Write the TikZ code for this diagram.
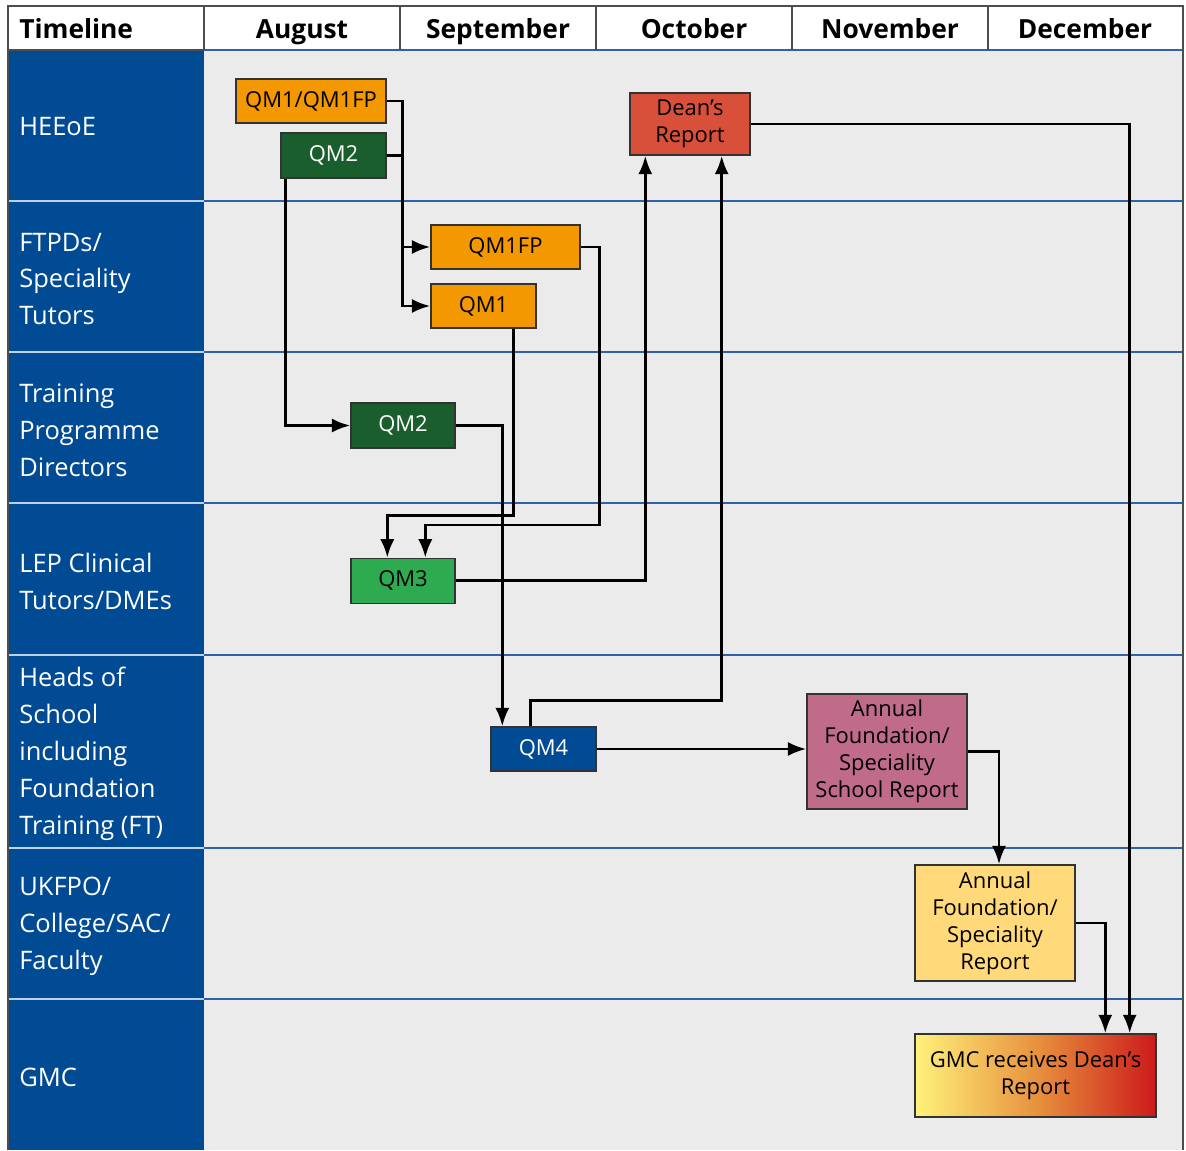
\documentclass[tikz,border=0pt]{standalone}
\usepackage{fontspec}
\setmainfont{Open Sans}
\usetikzlibrary{arrows.meta,positioning}

\definecolor{nhsblue}{HTML}{004B93}
\definecolor{panelgray}{HTML}{EBEBEB}
\definecolor{qmorange}{HTML}{F39800}
\definecolor{qmdkgreen}{HTML}{1B5E2E}
\definecolor{qmgreen}{HTML}{2EAA50}
\definecolor{deanred}{HTML}{D9503A}
\definecolor{schoolpink}{HTML}{C06B8A}
\definecolor{reportyellow}{HTML}{FFD97A}
\definecolor{gmcyellow}{HTML}{FFF27A}
\definecolor{gmcorange}{HTML}{E8923E}
\definecolor{gmcred}{HTML}{CC1A1A}
\definecolor{rowline}{HTML}{2F62A8}
\definecolor{framegray}{HTML}{4D4D4D}

\begin{document}
\begin{tikzpicture}[x=0.02cm, y=-0.02cm]
      \tikzstyle{qbox}=[rectangle, draw=black!80, line width=0.8pt, inner sep=0pt, align=center, font=\fontsize{12.5}{15.3}\selectfont]
      \tikzstyle{rowlabel}=[anchor=west, align=left, text=white, inner sep=0pt, font=\fontsize{14.5}{21}\selectfont]
      \tikzstyle{month}=[inner sep=0pt, anchor=base, font=\bfseries\fontsize{15}{18}\selectfont]
      \tikzstyle{connect}=[-{Latex[length=10.5pt, width=8pt]}, line width=1.6pt]
      \tikzstyle{link}=[line width=1.6pt]
      \tikzstyle{frame}=[framegray, line width=0.8pt]

      \useasboundingbox (0,0) rectangle (1186,1150);

      % table
      \fill[white] (8,6) rectangle (1183,50);
      \fill[panelgray] (204,50) rectangle (1183,1150);
      \fill[nhsblue] (8,50) rectangle (204,1150);
      \foreach \y in {201,352,503,655,848,999} {
        \draw[rowline, line width=0.8pt] (204,\y) -- (1183,\y);
        \draw[white!75!nhsblue, line width=1pt] (8,\y) -- (204,\y);
      }
      \draw[rowline, line width=0.8pt] (204,50) -- (1183,50);
      \draw[frame] (8,50) -- (204,50);
      \foreach \x in {204,400,596,792,988} \draw[frame] (\x,6) -- (\x,50);
      \draw[frame] (8,1150) -- (8,6) -- (1183,6) -- (1183,1150);

      % months
      \node[month, anchor=base west] (hdtime) at (19,38) {Timeline};
      \node[month] (hdaug) at (302,38) {August};
      \node[month] (hdsep) at (498,38) {September};
      \node[month] (hdoct) at (694,38) {October};
      \node[month] (hdnov) at (890,38) {November};
      \node[month] (hddec) at (1085,38) {December};

      % rows
      \node[rowlabel] (rheeoe) at (19,127) {HEEoE};
      \node[rowlabel] (rftpd) at (19,279) {FTPDs/\\Speciality\\Tutors};
      \node[rowlabel] (rtpd) at (19,430) {Training\\Programme\\Directors};
      \node[rowlabel] (rlep) at (19,581) {LEP Clinical\\Tutors/DMEs};
      \node[rowlabel] (rhos) at (19,754) {Heads of\\School\\including\\Foundation\\Training (FT)};
      \node[rowlabel] (rukfpo) at (19,926) {UKFPO/\\College/SAC/\\Faculty};
      \node[rowlabel] (rgmc) at (19,1077) {GMC};

      % boxes
      \node[qbox, fill=qmorange, minimum width=3cm, minimum height=0.88cm] (qmA) at (311,101) {QM1/QM1FP};
      \node[qbox, fill=qmdkgreen, text=white, minimum width=2.1cm, minimum height=0.9cm] (qmB) at (333.5,155.5) {QM2};
      \node[qbox, fill=deanred, minimum width=2.4cm, minimum height=1.24cm] (deans) at (690,124) {Dean's\\Report};
      \node[qbox, fill=qmorange, minimum width=2.98cm, minimum height=0.88cm] (qm1fp) at (505.5,247) {QM1FP};
      \node[qbox, fill=qmorange, minimum width=2.1cm, minimum height=0.88cm] (qm1) at (483.5,306) {QM1};
      \node[qbox, fill=qmdkgreen, text=white, minimum width=2.08cm, minimum height=0.9cm] (qm2) at (403,425.5) {QM2};
      \node[qbox, fill=qmgreen, minimum width=2.08cm, minimum height=0.9cm] (qm3) [below=2.18cm of qm2] {QM3};
      \node[qbox, fill=nhsblue, text=white, minimum width=2.1cm, minimum height=0.88cm] (qm4) at (543.5,749) {QM4};
      \node[qbox, fill=schoolpink, minimum width=3.2cm, minimum height=2.3cm] (school) at (887,751.5) {Annual\\Foundation/\\Speciality\\School Report};
      \node[qbox, fill=reportyellow, minimum width=3.2cm, minimum height=2.32cm] (annual) at (995,923) {Annual\\Foundation/\\Speciality\\Report};
      \node[qbox, left color=gmcyellow, right color=gmcred, middle color=gmcorange, minimum width=4.82cm, minimum height=1.66cm] (gmc) at (1035.5,1075.5) {GMC receives Dean's\\Report};

      % connectors
      \draw[connect] (qmA.east) -- ++(16,0) coordinate (split) |- (qm1.west);
      \draw[connect] (split |- qm1fp.west) -- (qm1fp.west);
      \draw[link] (qmB.east) -- (split |- qmB.east);
      \draw[connect] ([xshift=0.1cm]qmB.south west) |- (qm2.west);
      \draw[connect] (qm2.east) -| ([xshift=0.24cm]qm4.north west);
      \draw[connect] ([xshift=-0.46cm]qm1.south east) -- ++(0,187) -| ([xshift=0.74cm]qm3.north west);
      \draw[connect] (qm1fp.east) -- ++(19,0) -- ++(0,278) -| ([xshift=1.5cm]qm3.north west);
      \draw[connect] (qm3.east) -| ([xshift=0.32cm]deans.south west);
      \draw[connect] ([xshift=0.8cm]qm4.north west) -- ++(0,-26) -| ([xshift=-0.58cm]deans.south east);
      \draw[connect] (qm4.east) -- (qm4.east -| school.west);
      \draw[connect] (school.east) -| ([xshift=0.08cm]annual.north);
      \draw[connect] (annual.east) -| ([xshift=3.82cm]gmc.north west);
      \draw[connect] (deans.east) -| ([xshift=-0.54cm]gmc.north east);

    \end{tikzpicture}
\end{document}
